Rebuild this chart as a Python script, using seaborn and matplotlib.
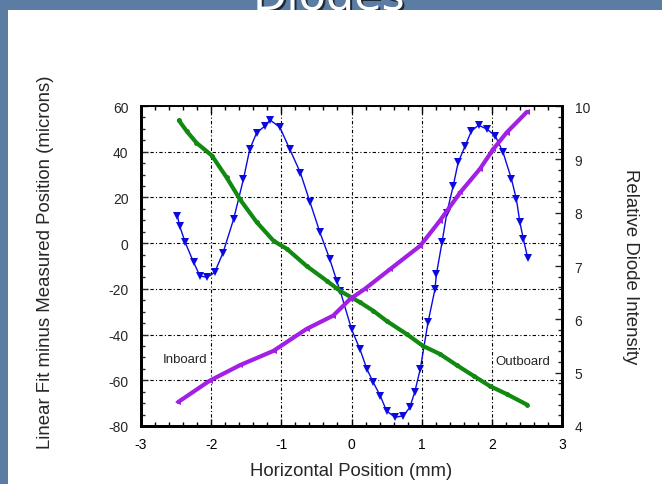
import matplotlib
matplotlib.use("Agg")
import matplotlib.pyplot as plt
from matplotlib.ticker import MultipleLocator
import seaborn as sns
import pandas as pd

# ---- data ----
blue_x = [-2.48, -2.45, -2.37, -2.25, -2.16, -2.06, -1.95, -1.83, -1.68, -1.54, -1.45, -1.35,
          -1.23, -1.16, -1.02, -0.88, -0.73, -0.59, -0.45, -0.31, -0.21, -0.16, 0.0, 0.12,
          0.22, 0.31, 0.41, 0.50, 0.62, 0.74, 0.83, 0.90, 0.98, 1.09, 1.19, 1.21, 1.29, 1.36,
          1.45, 1.52, 1.62, 1.71, 1.81, 1.93, 2.05, 2.16, 2.28, 2.35, 2.40, 2.45, 2.51]
blue_y = [11.9, 7.6, 0.3, -8.4, -14.3, -15.0, -12.8, -4.1, 10.5, 28.0, 41.1, 48.4,
          51.3, 53.9, 50.6, 41.1, 30.9, 17.8, 4.7, -7.0, -16.5, -21.0, -37.6, -46.4,
          -55.1, -60.9, -66.8, -73.4, -76.2, -75.5, -71.9, -65.3, -55.1, -34.7, -20.1, -13.6, 0.3, 13.4,
          25.1, 35.3, 42.6, 49.1, 51.6, 49.9, 46.9, 39.7, 28.0, 19.2, 9.1, 1.7, -6.3]

green_x = [-2.46, -2.35, -2.21, -1.99, -1.78, -1.59, -1.35, -1.11, -0.92, -0.64, -0.35, -0.21,
           -0.16, 0.12, 0.31, 0.50, 0.79, 1.02, 1.26, 1.50, 1.74, 1.97, 2.21, 2.50]
green_y = [9.73, 9.53, 9.31, 9.07, 8.66, 8.25, 7.82, 7.47, 7.32, 7.00, 6.72, 6.58,
           6.53, 6.32, 6.16, 5.97, 5.72, 5.50, 5.35, 5.14, 4.94, 4.75, 4.60, 4.40]

purple_x = [-2.47, -2.02, -1.59, -1.11, -0.64, -0.26, -0.02, 0.19, 0.55, 0.98, 1.26, 1.55,
            1.83, 2.02, 2.21, 2.50]
purple_y = [4.45, 4.85, 5.14, 5.41, 5.82, 6.07, 6.38, 6.57, 6.94, 7.38, 7.85, 8.38,
            8.82, 9.19, 9.50, 9.89]

x_ticks = [-3, -2, -1, 0, 1, 2, 3]
left_ticks = [-80, -60, -40, -20, 0, 20, 40, 60]
right_ticks = [4, 5, 6, 7, 8, 9, 10]

title = "Diodes"
xlabel = "Horizontal Position (mm)"
ylabel_left = "Linear Fit minus Measured Position (microns)"
ylabel_right = "Relative Diode Intensity"

# ---- style ----
sns.set_style("white")
plt.rcParams["font.family"] = ["Liberation Sans", "DejaVu Sans"]

W, H = 662, 485
fig = plt.figure(figsize=(W / 100, H / 100), dpi=100)
fig.patch.set_facecolor("#5b7ca3")

# white slide panel
bg = fig.add_axes([8 / W, 0, 1 - 8 / W, 1 - 11 / H], zorder=-5)
bg.set_facecolor("white")
bg.set_xticks([])
bg.set_yticks([])
for s in bg.spines.values():
    s.set_visible(False)

# title (mostly cut off at the top)
fig.text(0.497 + 1.5 / W, 1 - 11.5 / H, title, ha="center", va="baseline", fontsize=32,
         color="#1c2a3a", family="DejaVu Sans", zorder=-10)
fig.text(0.497, 1 - 10 / H, title, ha="center", va="baseline", fontsize=32,
         color="white", family="DejaVu Sans", zorder=-9)

ax = fig.add_axes([141 / W, 1 - 427 / H, 421 / W, 320 / H])
ax.set_facecolor("none")
ax2 = ax.twinx()

df_b = pd.DataFrame({"x": blue_x, "y": blue_y})
df_g = pd.DataFrame({"x": green_x, "y": green_y})
df_p = pd.DataFrame({"x": purple_x, "y": purple_y})

sns.lineplot(data=df_g, x="x", y="y", ax=ax2, sort=False, estimator=None, color="#128a12",
             linewidth=3.0, marker="o", markersize=3.5, markeredgewidth=0, zorder=3)
sns.lineplot(data=df_p, x="x", y="y", ax=ax2, sort=False, estimator=None, color="#a21fe6",
             linewidth=3.0, marker="<", markersize=4.5, markeredgewidth=0, zorder=3)
sns.lineplot(data=df_b, x="x", y="y", ax=ax, sort=False, estimator=None, color="#0a0ae0",
             linewidth=1.0, marker="v", markersize=5.5, markeredgewidth=0, zorder=4)

ax.set_xlim(-3, 3)
ax.set_ylim(-80, 60)
ax2.set_ylim(4, 10)
ax.set_xticks(x_ticks)
ax.set_xticklabels([str(t) for t in x_ticks])
ax.set_yticks(left_ticks)
ax.set_yticklabels([str(t) for t in left_ticks])
ax2.set_yticks(right_ticks)
ax2.set_yticklabels([str(t) for t in right_ticks])
ax.xaxis.set_minor_locator(MultipleLocator(0.2))
ax.yaxis.set_minor_locator(MultipleLocator(5))
ax2.yaxis.set_minor_locator(MultipleLocator(0.2))

ax.grid(True, which="major", color="black", linestyle=(0, (3, 2, 1, 2)), linewidth=0.8)
ax2.grid(False)

ax.tick_params(axis="x", which="both", direction="in", top=True, bottom=True,
               labelsize=10, pad=8, colors="black")
ax.tick_params(axis="x", which="major", length=5, width=1)
ax.tick_params(axis="x", which="minor", length=3, width=1)
ax.tick_params(axis="y", which="both", direction="in", left=True, right=False,
               labelsize=10, pad=9)
ax.tick_params(axis="y", which="major", length=5, width=1)
ax.tick_params(axis="y", which="minor", length=3, width=1)
ax2.tick_params(axis="y", which="both", direction="in", right=True, labelsize=10, pad=9)
ax2.tick_params(axis="y", which="major", length=5, width=1)
ax2.tick_params(axis="y", which="minor", length=3, width=1)

for a in (ax, ax2):
    for s in a.spines.values():
        s.set_color("black")
    a.spines["left"].set_linewidth(2)
    a.spines["bottom"].set_linewidth(2)
    a.spines["right"].set_linewidth(2)
    a.spines["top"].set_linewidth(1.2)

ax.set_xlabel("")
ax.set_ylabel("")
ax2.set_ylabel("")
fig.text(351.5 / W, 1 - 472 / H, xlabel, ha="center", va="center", fontsize=13.3)
fig.text(46 / W, 1 - 262 / H, ylabel_left, ha="center", va="center", fontsize=13.4, rotation=90)
fig.text(631 / W, 1 - 267 / H, ylabel_right, ha="center", va="center", fontsize=13.4, rotation=-90)

ax.text(-2.37, -50.7, "Inboard", ha="center", va="center", fontsize=9.5, zorder=5)
ax.text(2.44, -51.5, "Outboard", ha="center", va="center", fontsize=9.5, zorder=5)

fig.savefig("out.png", dpi=100, facecolor=fig.get_facecolor())
